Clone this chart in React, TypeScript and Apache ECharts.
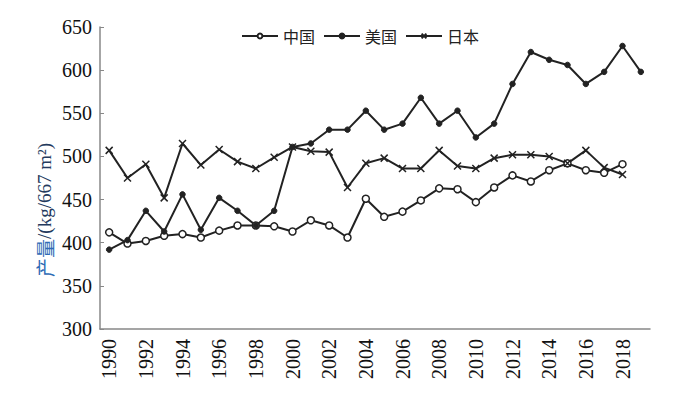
import React, { useEffect, useRef } from "react";
import * as echarts from "echarts";

const years: string[] = [
  "1990","1991","1992","1993","1994","1995","1996","1997","1998","1999",
  "2000","2001","2002","2003","2004","2005","2006","2007","2008","2009",
  "2010","2011","2012","2013","2014","2015","2016","2017","2018","2019",
];

const china: (number | null)[] = [
  412, 399, 402, 408, 410, 406, 414, 420, 420, 419,
  413, 426, 420, 406, 451, 430, 436, 449, 463, 462,
  447, 464, 478, 471, 484, 492, 484, 481, 491, null,
];

const usa: number[] = [
  392, 403, 437, 413, 456, 415, 452, 437, 420, 437,
  511, 515, 531, 531, 553, 531, 538, 568, 538, 553,
  522, 538, 584, 621, 612, 606, 584, 598, 628, 598,
];

const japan: (number | null)[] = [
  507, 475, 491, 452, 515, 490, 508, 494, 486, 499,
  511, 506, 505, 464, 492, 498, 486, 486, 507, 489,
  486, 498, 502, 502, 500, 492, 507, 487, 479, null,
];

const seriesNames: string[] = ["中国", "美国", "日本"];

const crossPath = "path://M0,0L10,10M0,10L10,0";

export default function App() {
  const ref = useRef<HTMLDivElement>(null);

  useEffect(() => {
    if (!ref.current) return;
    const chart = echarts.init(ref.current, null, { renderer: "svg" });
    const lineColor = "#222";
    const serif = "Liberation Serif";
    const cjk = "Noto Sans CJK SC";
    chart.setOption({
      animation: false,
      backgroundColor: "#fff",
      legend: {
        left: 236,
        top: 23,
        itemWidth: 36,
        itemHeight: 6,
        itemGap: 8,
        textStyle: { fontSize: 16, color: "#222", fontFamily: cjk },
        data: seriesNames,
      },
      grid: { left: 100, right: 25, top: 27, bottom: 68, containLabel: false },
      xAxis: {
        type: "category",
        data: years,
        boundaryGap: true,
        axisLine: { lineStyle: { color: "#888", width: 1.5 } },
        axisTick: { inside: true, length: 4, interval: 0, lineStyle: { color: "#888" } },
        axisLabel: {
          interval: 1,
          rotate: 90,
          margin: 10,
          fontSize: 20,
          color: "#111",
          fontFamily: serif,
        },
        splitLine: { show: false },
      },
      yAxis: {
        type: "value",
        min: 300,
        max: 650,
        interval: 50,
        axisLine: { show: true, lineStyle: { color: "#888", width: 1.5 } },
        axisTick: { show: true, inside: true, length: 4, lineStyle: { color: "#888" } },
        axisLabel: { fontSize: 20, color: "#111", fontFamily: serif, margin: 8 },
        splitLine: { show: false },
      },
      graphic: [
        {
          type: "text",
          x: 44,
          y: 210,
          rotation: Math.PI / 2,
          style: {
            text: "{a|产量}{b|/(kg/667 m²)}",
            align: "center",
            verticalAlign: "middle",
            rich: {
              a: { fill: "#2e6bb5", fontFamily: cjk, fontSize: 19 },
              b: { fill: "#243a5e", fontFamily: serif, fontSize: 19 },
            },
          },
        },
      ],
      series: [
        {
          name: seriesNames[0],
          type: "line",
          data: china,
          symbol: "circle",
          symbolSize: 7,
          lineStyle: { color: lineColor, width: 2 },
          itemStyle: { color: "#fff", borderColor: lineColor, borderWidth: 1.5 },
        },
        {
          name: seriesNames[1],
          type: "line",
          data: usa,
          symbol: "circle",
          symbolSize: 5.5,
          lineStyle: { color: lineColor, width: 2 },
          itemStyle: { color: lineColor, borderColor: lineColor, borderWidth: 1 },
        },
        {
          name: seriesNames[2],
          type: "line",
          data: japan,
          symbol: crossPath,
          symbolSize: 7,
          lineStyle: { color: lineColor, width: 2 },
          itemStyle: { color: lineColor, borderColor: lineColor, borderWidth: 1.5 },
        },
      ],
    });
    return () => chart.dispose();
  }, []);

  return (
    <div
      ref={ref}
      style={{ position: "fixed", left: 0, top: 0, width: 675, height: 397 }}
    />
  );
}
